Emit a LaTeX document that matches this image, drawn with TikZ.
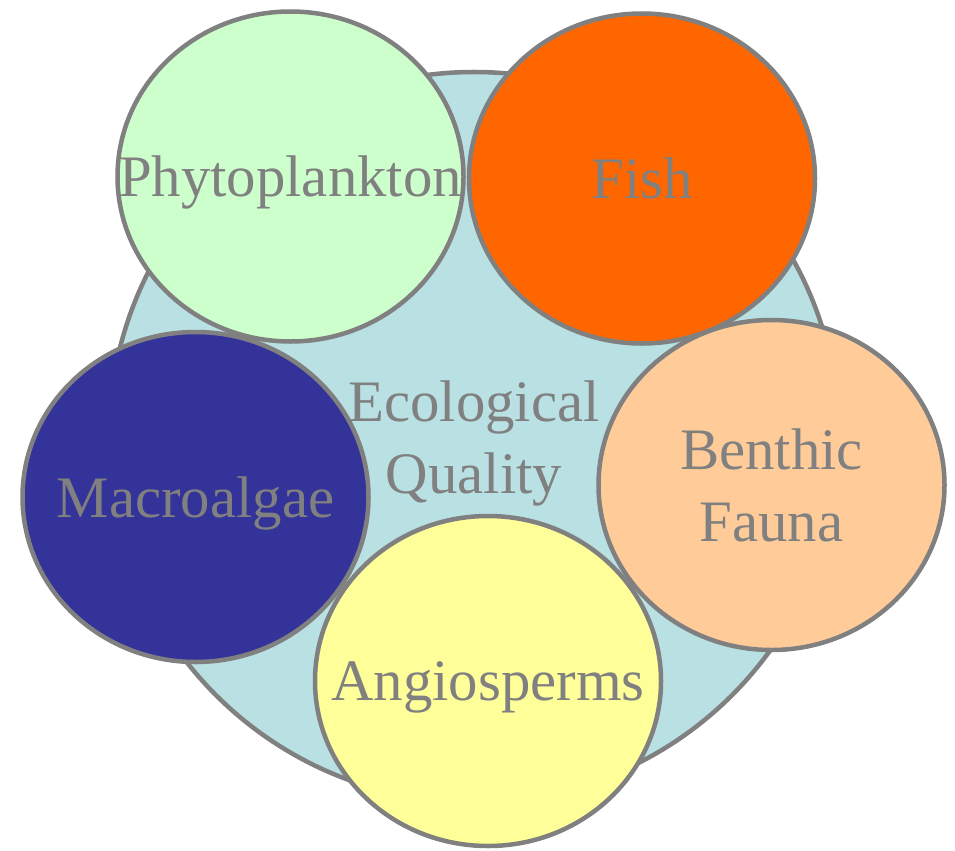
\documentclass[tikz,border=0pt]{standalone}
\usepackage{fontspec}
\setmainfont{Liberation Serif}
\usetikzlibrary{shapes.geometric}
\definecolor{poolc}{RGB}{185,224,227}
\definecolor{phytoc}{RGB}{204,255,204}
\definecolor{fishc}{RGB}{255,102,0}
\definecolor{benthc}{RGB}{255,204,153}
\definecolor{angioc}{RGB}{255,255,153}
\definecolor{macroc}{RGB}{51,51,153}
\definecolor{edgec}{RGB}{128,128,128}
\begin{document}
\begin{tikzpicture}[x=1bp, y=-1bp,
  every node/.style={font=\fontsize{59}{73}\selectfont},
  lab/.style={text=edgec, align=center, text depth=0pt, inner sep=0pt},
  group/.style={ellipse, draw=edgec, line width=4.5bp, minimum width=346bp, minimum height=330bp, inner sep=0pt}]
  \useasboundingbox (0,0) rectangle (955,851);
  \node[circle, draw=edgec, line width=4.5bp, fill=poolc, minimum size=730bp, inner sep=0pt,
    label={[lab]center:{Ecological\\Quality}}] (eq) at (474,437) {};
  \node[group, fill=phytoc, label={[lab]center:Phytoplankton}] (phyto) at (290.5,176.5) {};
  \node[group, fill=fishc, label={[lab]center:Fish}] (fish) at (642,178.5) {};
  \node[group, fill=benthc, label={[lab]center:{Benthic\\Fauna}}] (benth) at (771.5,485) {};
  \node[group, fill=macroc, label={[lab]center:Macroalgae}] (macro) at (195.5,497) {};
  \node[group, fill=angioc, label={[lab]center:Angiosperms}] (angio) at (488,681) {};
\end{tikzpicture}
\end{document}
